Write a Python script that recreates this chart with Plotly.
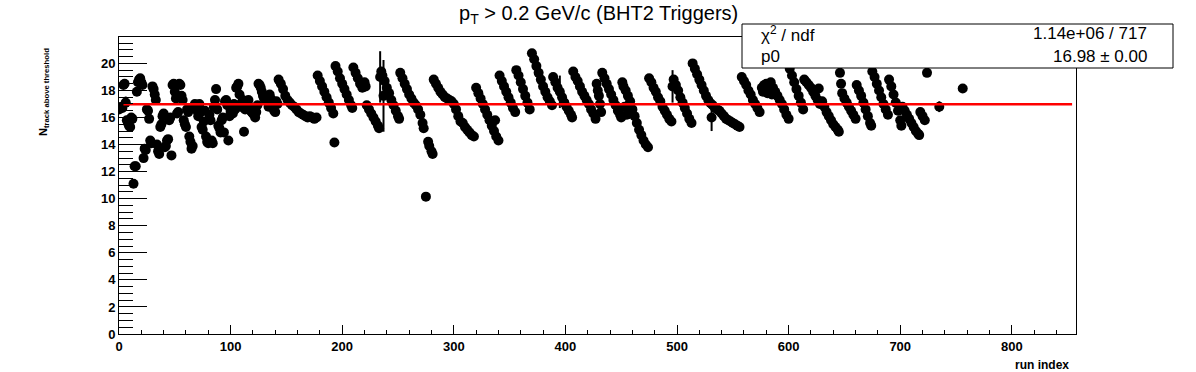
import plotly.graph_objects as go

# ---- data ----
run_index = [
    0, 1, 2, 3, 4, 5, 6, 7, 8, 9, 10, 11, 12, 13, 14, 15, 16, 17, 18, 19, 20, 21, 22, 23, 24,
    25, 26, 27, 28, 29, 30, 31, 32, 33, 34, 35, 36, 37, 38, 39, 40, 41, 42, 43, 44, 45, 46, 47,
    48, 49, 50, 51, 52, 53, 54, 55, 56, 57, 58, 59, 60, 61, 62, 63, 64, 65, 66, 67, 68, 69, 70,
    71, 72, 73, 74, 75, 76, 77, 78, 79, 80, 81, 82, 83, 84, 85, 86, 87, 88, 89, 90, 91, 92, 93,
    94, 95, 96, 97, 98, 99, 100, 101, 102, 103, 104, 105, 106, 107, 108, 109, 110, 111, 112,
    113, 114, 115, 116, 117, 118, 119, 120, 121, 122, 123, 124, 125, 126, 127, 128, 129, 130,
    131, 132, 133, 134, 135, 136, 137, 138, 139, 140, 141, 142,
    143, 145, 147, 149, 151, 153, 155, 157, 159, 161, 163, 165, 167, 169, 171, 173, 175, 177,
    178, 180, 182, 184, 186, 188, 190, 192, 193,
    194, 196, 198, 200, 202, 204, 206, 208, 209,
    210, 212, 214, 216, 218, 219, 220, 221,
    222, 224, 226, 228, 230, 232, 233,
    234, 235, 236, 237, 238, 240, 242, 244, 246, 248, 250, 251,
    252, 254, 256, 258, 260, 262, 264, 266, 268, 270, 272, 273, 275, 277, 278, 280, 281,
    282, 284, 286, 288, 290, 292, 294, 296, 298, 300, 302, 304, 306, 308, 310, 312, 314, 316, 318,
    320, 322, 324, 326, 328, 330, 332, 334, 336, 337, 338, 340,
    341, 343, 345, 347, 349, 351, 353, 355,
    356, 358, 360, 362, 364, 366, 368,
    370, 372, 374, 376, 378, 380, 382, 384, 386, 388,
    389, 391, 393, 395, 397, 399, 401, 403, 405, 406,
    407, 409, 411, 413, 415, 417, 419, 421, 423, 425, 427,
    428, 429, 430, 431, 432,
    433, 435, 437, 439, 441, 443, 445, 447, 449, 450,
    451, 452, 453, 454, 455, 456, 457, 458, 460, 462, 464, 466, 468, 470, 472, 474,
    475, 477, 479, 481, 483, 485, 487, 489, 491, 493, 495,
    496, 497, 499, 501, 503, 505, 507, 509, 511, 513,
    514, 516, 518, 520, 522, 524, 526, 528, 530, 531, 532, 534, 536, 538, 540, 542, 544, 546,
    548, 550, 552, 554, 556,
    558, 560, 562, 564, 566, 568, 570, 572, 574,
    576, 577, 578, 579, 580, 581, 582, 583, 584, 585, 586, 588, 590, 592, 594, 596, 598, 600,
    601, 603, 605, 607, 609, 611, 613,
    614, 616, 618, 620, 622, 624, 626, 627, 628,
    630, 632, 634, 636, 638, 640, 642, 644, 645,
    646, 647,
    648, 650, 652, 654, 656, 658, 660,
    661, 663, 665, 667, 669, 671, 673, 674,
    675, 677, 679, 681, 683, 685, 687, 689,
    690, 692, 694, 696, 698, 700, 701,
    702, 704, 706, 708, 710, 712, 714, 716, 717,
    718, 720, 722, 724,
    735, 756,
]

n_track = [
    16.6, 16.7, 16.8, 16.7, 18.4, 18.5, 17.1, 15.8, 15.6, 15.4, 15.3, 16.0, 15.9, 11.1, 12.4,
    12.4, 17.9, 18.6, 18.8, 18.9, 18.6, 18.4, 13.0, 13.7, 13.6,
    16.6, 16.5, 15.9, 14.3, 14.1, 18.3, 18.1, 17.7, 17.3, 14.0, 13.5, 13.3, 15.3, 15.5, 16.1,
    16.3, 13.8, 13.9, 14.3, 14.4, 15.8, 16.0, 13.2,
    18.4, 18.5, 17.9, 17.4, 16.3, 16.4, 18.5, 18.4, 17.6, 17.3, 15.8, 15.5, 15.3, 16.6, 16.4,
    14.6, 14.2, 13.7, 13.9, 16.8, 17.0, 16.9, 16.5,
    16.1, 17.0, 16.4, 15.3, 15.1, 15.7, 16.5, 14.6, 14.2, 14.1, 16.2, 15.8, 14.3, 14.1, 16.8,
    17.3, 18.1, 16.6, 15.4, 15.2, 14.9, 15.8, 16.0,
    14.9, 17.2, 17.3, 16.9, 14.3, 16.1, 16.5, 16.6, 16.3, 17.0, 16.6, 18.2, 18.3, 18.5, 17.7,
    16.8, 17.1, 17.3, 14.95,
    16.6, 16.9, 17.2, 17.3, 16.7, 16.5, 16.4, 16.3, 16.2, 16.0, 16.4, 16.9, 18.5, 18.4, 18.2,
    17.9, 17.6, 17.4,
    17.3, 17.6, 17.2, 16.8, 17.7, 17.4, 17.0, 16.7, 16.5, 16.4, 17.2, 17.0,
    18.8, 18.5, 18.1, 17.6, 17.3, 17.1, 16.9, 16.8, 16.6, 16.4, 16.3, 16.2, 16.1, 16.0, 16.1,
    16.0, 15.9, 16.0,
    19.1, 18.7, 18.3, 17.9, 17.5, 17.1, 16.7, 16.3, 14.15,
    19.8, 19.4, 18.9, 18.5, 18.1, 17.7, 17.3, 16.9, 16.7,
    19.7, 19.3, 18.9, 18.5, 18.2, 18.4, 18.6, 18.3,
    16.9, 16.6, 16.3, 16.0, 15.7, 15.4, 15.2,
    19.0, 19.4, 19.1, 17.6, 18.7, 18.2, 17.8, 17.3, 16.9, 16.5, 16.1, 15.9,
    19.3, 18.9, 18.5, 18.1, 17.7, 17.4, 17.1, 16.9, 16.6, 16.2, 15.6, 15.2, 10.15, 14.2, 13.9,
    13.5, 13.3,
    18.8, 18.5, 18.2, 17.9, 17.7, 17.5, 17.4, 17.3, 17.2, 17.0, 16.6, 16.1, 15.7, 15.6, 15.3,
    15.1, 14.9, 14.7, 14.6,
    18.2, 17.8, 17.4, 17.0, 16.6, 16.2, 15.8, 15.4, 15.0, 15.8, 14.6, 14.3,
    19.1, 18.7, 18.3, 17.9, 17.5, 17.1, 16.7, 16.4,
    19.5, 19.1, 18.6, 18.1, 17.6, 17.1, 16.6,
    20.75, 20.3, 19.8, 19.3, 18.8, 18.3, 17.9, 17.5, 17.2, 16.9,
    19.0, 18.6, 18.2, 17.9, 17.5, 17.1, 16.8, 16.5, 16.2, 16.0,
    19.4, 19.0, 18.7, 18.3, 17.9, 17.6, 17.3, 17.0, 16.6, 16.3, 15.9,
    18.5, 18.0, 17.6, 17.0, 16.4,
    19.3, 18.9, 18.5, 18.1, 17.7, 17.3, 16.9, 16.5, 16.2, 16.0,
    18.6, 18.3, 16.8, 18.0, 16.2, 17.6, 16.5, 17.2, 16.6, 16.1, 15.6, 15.1, 14.7, 14.3, 14.0,
    13.8,
    18.9, 18.6, 18.2, 17.9, 17.5, 17.2, 16.8, 16.5, 16.2, 15.9, 15.7,
    18.3, 18.8, 18.4, 18.0, 17.5, 17.1, 16.7, 16.3, 15.9, 15.6,
    20.0, 19.6, 19.2, 18.8, 18.4, 18.0, 17.6, 17.3, 17.05, 16.0, 16.9, 16.7, 16.6, 16.5, 16.3,
    16.1, 15.9, 15.8, 15.7, 15.6, 15.5, 15.4, 15.3,
    19.0, 18.7, 18.4, 18.0, 17.7, 17.3, 17.0, 16.7, 16.4,
    18.2, 17.9, 18.4, 18.0, 18.5, 17.8, 18.3, 18.1, 18.6, 17.7, 18.2, 17.9, 17.6, 17.3, 17.0,
    16.6, 16.2, 15.9,
    19.6, 19.1, 18.6, 18.1, 17.6, 17.1, 16.6,
    18.8, 18.6, 18.4, 18.2, 17.9, 17.6, 17.3, 18.15, 17.0,
    17.2, 16.8, 16.4, 16.1, 15.8, 15.5, 15.3, 15.1, 14.95,
    19.3, 18.5,
    17.8, 17.4, 17.1, 16.8, 16.5, 16.2, 15.9,
    18.4, 18.0, 17.6, 17.1, 16.6, 16.1, 15.6, 15.4,
    19.4, 19.0, 18.5, 18.0, 17.5, 17.0, 16.6, 16.2,
    18.8, 18.3, 17.7, 17.1, 16.5, 15.8, 15.4,
    16.8, 16.5, 16.2, 15.9, 15.6, 15.3, 15.0, 14.8, 14.7,
    16.4, 16.1, 15.8, 19.3,
    16.8, 18.15,
]

# visible (non-negligible) error bars
err_runs = [6, 234, 237, 395, 496, 531, 735]
err_sizes = [0.45, 1.9, 2.65, 1.2, 1.2, 1.0, 0.4]

# constant fit
p0 = 16.98
fit_range = [4, 854]

title_text = "p<sub>T</sub> > 0.2 GeV/c (BHT2 Triggers)"
x_title = "run index"
y_title = "N<sub>track above threshold</sub>"
stats_labels = ["χ<sup>2</sup> / ndf", "p0"]
stats_values = ["1.14e+06 / 717", "16.98 ± 0.00"]

# ---- figure ----
err_map = dict(zip(err_runs, err_sizes))
err_array = [err_map.get(r, 0.0) for r in run_index]

FONT = "Liberation Sans, Arial, Helvetica, sans-serif"

fig = go.Figure()
fig.add_trace(go.Scatter(
    x=run_index, y=n_track, mode="markers",
    marker=dict(symbol="circle", size=10, color="black", line=dict(width=0)),
    error_y=dict(type="data", array=err_array, visible=True, color="black",
                 thickness=2, width=0),
    showlegend=False, hoverinfo="x+y",
))
fig.add_trace(go.Scatter(
    x=fit_range, y=[p0, p0], mode="lines",
    line=dict(color="red", width=2.5), showlegend=False,
))

W, H = 1196, 372
L, R, T, B = 119, 120, 37, 38
pw, ph = W - L - R, H - T - B

def px(xp):
    return (xp - L) / pw

def py(yp):
    return (H - B - yp) / ph

fig.update_layout(
    width=W, height=H,
    margin=dict(l=L, r=R, t=T, b=B, pad=0),
    paper_bgcolor="white", plot_bgcolor="white",
    font=dict(family=FONT, color="black"),
    xaxis=dict(
        range=[0, 857.5], showgrid=False, zeroline=False,
        showline=True, linecolor="black", linewidth=1, mirror=True,
        ticks="inside", ticklen=9, tickwidth=1, tickcolor="black",
        dtick=100, tick0=0,
        minor=dict(dtick=20, ticks="inside", ticklen=4, tickwidth=1, tickcolor="black"),
        tickfont=dict(family=FONT, size=13, weight="bold"),
    ),
    yaxis=dict(
        range=[0, 21.95], showgrid=False, zeroline=False,
        showline=True, linecolor="black", linewidth=1, mirror=True,
        ticks="inside", ticklen=28, tickwidth=1, tickcolor="black",
        dtick=2, tick0=0,
        minor=dict(dtick=0.5, ticks="inside", ticklen=14, tickwidth=1, tickcolor="black"),
        tickfont=dict(family=FONT, size=13, weight="bold"),
    ),
)

annotations = [
    dict(text=title_text, xref="paper", yref="paper", x=px(598), y=py(15),
         xanchor="center", yanchor="middle", showarrow=False,
         font=dict(family=FONT, size=20)),
    dict(text=x_title, xref="paper", yref="paper", x=px(1071), y=py(365),
         xanchor="right", yanchor="middle", showarrow=False,
         font=dict(family=FONT, size=12, weight="bold")),
    dict(text=y_title, xref="paper", yref="paper", x=px(44), y=py(92),
         xanchor="center", yanchor="middle", showarrow=False, textangle=-90,
         font=dict(family=FONT, size=11, weight="bold")),
]
row_y = [34, 56]
for lab, val, ry in zip(stats_labels, stats_values, row_y):
    annotations.append(dict(text=lab, xref="paper", yref="paper", x=px(759), y=py(ry),
                            xanchor="left", yanchor="middle", showarrow=False,
                            font=dict(family=FONT, size=17)))
    annotations.append(dict(text=val, xref="paper", yref="paper", x=px(1149), y=py(ry),
                            xanchor="right", yanchor="middle", showarrow=False,
                            font=dict(family=FONT, size=17)))
fig.update_layout(annotations=annotations)

fig.add_shape(type="rect", xref="paper", yref="paper",
              x0=px(742), x1=px(1173), y0=py(68), y1=py(24),
              fillcolor="white", line=dict(color="black", width=1), layer="above")

fig.write_html("out.html", config={"displayModeBar": False},
               post_script="document.body.style.margin='0px';")
